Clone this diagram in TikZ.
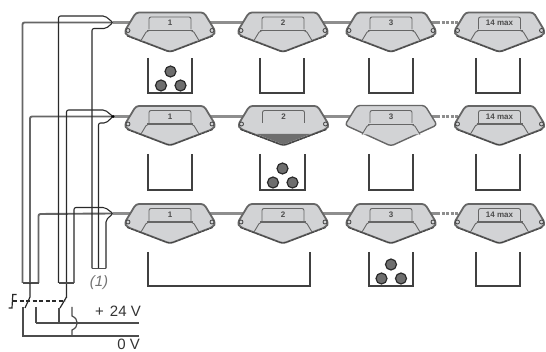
\documentclass[tikz,border=0pt]{standalone}
\usepackage{fontspec}
\setmainfont{Liberation Sans}
\definecolor{bodyfill}{HTML}{D2D3D5}
\definecolor{edgegrey}{HTML}{666666}
\definecolor{tubegrey}{HTML}{8E8E8E}
\definecolor{ballgrey}{HTML}{6E6E6E}
\definecolor{wiredark}{HTML}{2A2A2A}
\tikzset{
  x=1pt,y=-1pt,
  outline/.style={draw=edgegrey,line width=1.8pt,fill=bodyfill,line join=round,rounded corners=3pt},
  hatchedge/.style={draw=black!75,line width=.8pt,dash pattern=on 3pt off 1.2pt,rounded corners=3pt},
  inner/.style={draw=edgegrey,line width=.9pt,fill=bodyfill,rounded corners=2pt},
  binline/.style={draw=black!75,line width=1.4pt,line join=miter},
  ball/.style={draw=wiredark,line width=1.2pt,fill=ballgrey},
  tube/.style={draw=tubegrey,line width=3.4pt},
  airline/.style={draw=black!60,line width=1.9pt,rounded corners=2pt},
  thinwire/.style={draw=wiredark,line width=1.1pt,rounded corners=2pt},
  power/.style={draw=black!70,line width=1.2pt},
  tag/.style={font=\bfseries\fontsize{8}{8}\selectfont,text=black!70,inner sep=0pt},
  voltage/.style={font=\fontsize{15}{15}\selectfont,text=black!80,inner sep=0pt},
}
% name, centre x, top y, label
\newcommand{\devshell}[3]{%
  \coordinate (#1) at (#2,#3+10);
  \begin{scope}[shift={(#2,#3)}]
    \path[outline] (-34,0) -- (34,0) -- (45.5,19) -- (43,23) -- (0,39.5) -- (-43,23) -- (-45.5,19) -- cycle;
    \draw[hatchedge] (-43,23.5) -- (0,39.5) -- (43,23.5);
  \end{scope}}
\newcommand{\devpocket}[2]{%
  \begin{scope}[shift={(#1,#2)}]
    \path[inner] (-29,28) -- (-23,18) -- (23,18) -- (29,28);
    \draw[edgegrey,line width=1.2pt] (-23,18) -- (23,18);
  \end{scope}}
\newcommand{\devtag}[4]{%
  \begin{scope}[shift={(#2,#3)}]
    \path[inner] (-21,17) -- (-21,4.5) -- (21,4.5) -- (21,17);
    \node[tag] (#1t) at (0,10.5) {#4};
  \end{scope}}
\newcommand{\devpins}[2]{%
  \begin{scope}[shift={(#1,#2)}]
    \draw[black!75,line width=.8pt,fill=bodyfill] (-42,18) circle (2pt) (42,18) circle (2pt);
  \end{scope}}
\newcommand{\dev}[4]{\devshell{#1}{#2}{#3}\devpocket{#2}{#3}\devtag{#1}{#2}{#3}{#4}\devpins{#2}{#3}}
\newcommand{\binballs}[2]{%
  \path[ball] (#1,#2-21.5) circle (5.5pt) (#1-9.5,#2-7.5) circle (5.5pt) (#1+10,#2-7.5) circle (5.5pt);}
\newcommand{\binbox}[4]{\draw[binline] (#1,#3) -- (#1,#4) -- (#2,#4) -- (#2,#3);}
\begin{document}
\begin{tikzpicture}
\useasboundingbox (0,0) rectangle (546,352);
\foreach \yy/\rr in {22.5/a,116.5/b,213.5/c}{
  \coordinate (p\rr) at (113,\yy);
  \coordinate (q\rr) at (512,\yy);
}
% tubes
\foreach \rr in {a,b,c}{
  \draw[tube] (p\rr) -- ([xshift=-75]q\rr);
  \draw[tube,dash pattern=on 3pt off 1.5pt] ([xshift=-75]q\rr) -- ([xshift=-45]q\rr);
}
% row 1
\dev{a1}{170}{12.5}{1}
\dev{a2}{283}{12.5}{2}
\dev{a3}{391}{12.5}{3}
\dev{a4}{499.5}{12.5}{14 max}
% row 2
\dev{b1}{170}{106}{1}
\devshell{b2}{283.5}{106}
\begin{scope}[shift={(283.5,106)}]
  \fill[ballgrey] (-27,28) -- (27,28) -- (0,38.5) -- cycle;
  \draw[hatchedge] (-43,23.5) -- (0,39.5) -- (43,23.5);
\end{scope}
\devtag{b2}{283.5}{106}{2}
\devpins{283.5}{106}
\path[outline,line width=1.4pt] (357,105.5) -- (425,105.5) -- (437,125) -- (391,146) -- (345,125) -- cycle;
\coordinate (b3) at (391,116);
\devpocket{391}{106.5}
\devtag{b3}{391}{106}{3}
\dev{b4}{499.5}{106}{14 max}
% row 3
\dev{c1}{170}{204}{1}
\dev{c2}{283}{204}{2}
\dev{c3}{391}{204}{3}
\dev{c4}{499.5}{204}{14 max}
% bins
\binbox{148}{192}{58}{93}
\binballs{170.5}{93}
\binbox{260}{304}{58}{93}
\binbox{369}{413}{58}{93}
\binbox{476}{520}{58}{93}
\binbox{148}{192}{154}{190}
\binbox{260}{305}{154}{190}
\binballs{282.5}{190}
\binbox{369}{413}{154}{190}
\binbox{476}{520}{154}{190}
\binbox{148}{310}{252}{286}
\binbox{369}{413}{252}{286}
\binballs{391}{286}
\binbox{476}{520}{252}{286}
% pneumatic and pilot connections
\draw[airline] (22.5,283) -- (22.5,22.5) -- (pa);
\draw[airline] (38.5,283) -- (38.5,214) -- (pc);
\draw[airline] (30,283) -- (30,116.5) -- (pb);
\draw[thinwire] (58.5,283) -- (58.5,16) -- (105,16) -- (pa) -- (106,28.5) -- (92,28.5) -- (92,268.5);
\draw[thinwire] (66.5,298) -- (66.5,110) -- (105,110) -- (pb) -- (106,123) -- (98.5,123) -- (98.5,268.5);
\draw[thinwire] (74,283) -- (74,207.5) -- (105,207.5) -- (pc) -- (106,220) -- (106,268.5);
\draw[black!70,line width=1.3pt] (22.5,283) -- (38.5,283) (58.5,283) -- (74,283) (92,268.5) -- (106,268.5);
\fill[black] (pb) circle (1.6pt);
\node[font=\itshape\fontsize{15}{15}\selectfont,text=black!55,inner sep=0pt] (note) at (99,282.5) {(1)};
% switches and supply
\coordinate (sa) at (25,308);
\coordinate (sb) at (60,308);
\draw[wiredark,line width=1.2pt] (30,283) -- (30,297) -- (sa) (66.5,297) -- (sb);
\draw[wiredark,line width=1.2pt,dash pattern=on 4pt off 2.5pt] (13,301) -- (65,301);
\draw[wiredark,line width=1.2pt] (16.5,294.5) -- (12.8,294.5) -- (12,308) -- (8.5,308);
\draw[power] (23,307) -- (23,336) -- (139,336);
\draw[power,line width=1.8pt] (36,323) -- (139,323);
\draw[power] (36,307) -- (36,323);
\draw[power] (59,308) -- (59,323);
\draw[power] (72,307) -- (72,316) .. controls (79,319) and (79,327) .. (72,330) -- (72,336);
\node[voltage,anchor=east] (v24) at (141,311) {+\hspace{2pt} 24 V};
\node[voltage,anchor=east] (v0) at (140,344) {0 V};
\end{tikzpicture}
\end{document}
